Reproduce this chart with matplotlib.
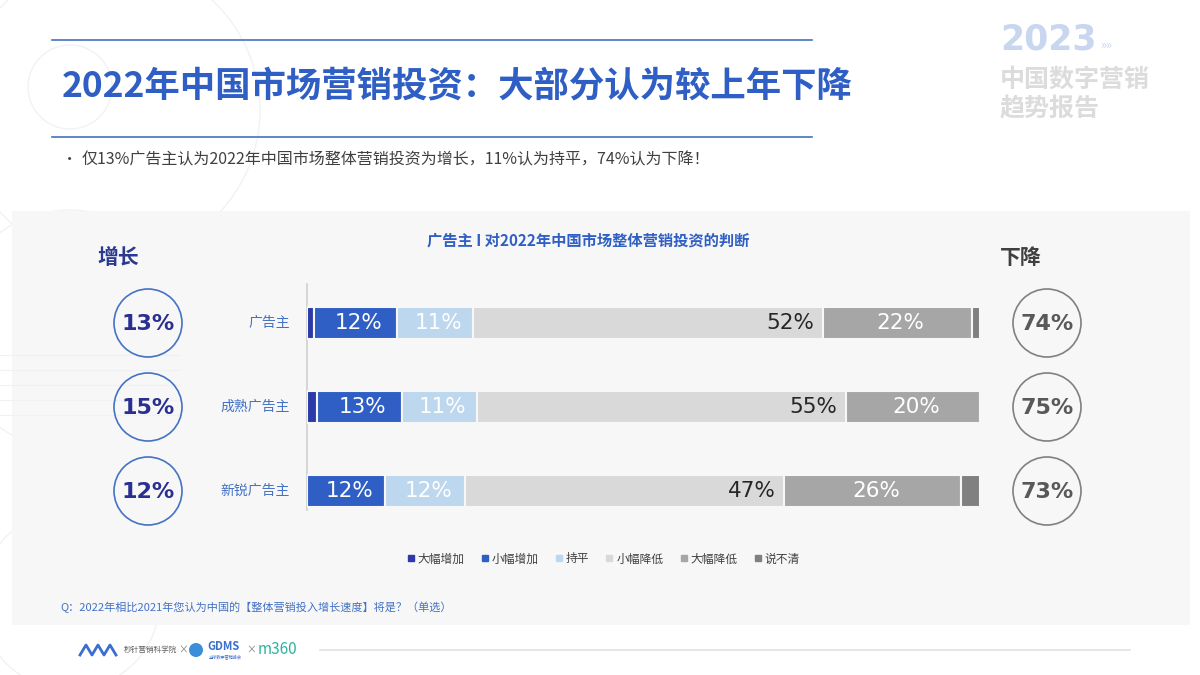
import numpy as np
import matplotlib.pyplot as plt
from matplotlib.patches import Circle, Rectangle
from matplotlib.lines import Line2D

plt.rcParams['font.family'] = ['Noto Sans CJK SC', 'DejaVu Sans']

# data
groups = ['广告主', '成熟广告主', '新锐广告主']
series = ['大幅增加', '小幅增加', '持平', '小幅降低', '大幅降低', '说不清']
big_up = [1.0, 1.5, 0.0]
small_up = [12.4, 12.6, 11.6]
flat = [11.3, 11.1, 11.9]
small_down = [51.8, 54.7, 47.2]
big_down = [22.2, 19.9, 26.4]
unsure = [1.2, 0.0, 2.8]
growth_total = [13, 15, 12]
decline_total = [74, 75, 73]

colors = ['#2b3aa8', '#2f5fc4', '#bdd7ee', '#d9d9d9', '#a6a6a6', '#808080']
label_colors = [None, 'white', 'white', '#262626', 'white', None]
panel = '#f7f7f8'
blue = '#2f5fc4'

fig = plt.figure(figsize=(12, 6.75), dpi=100)
bg = fig.add_axes([0, 0, 1, 1])
bg.set_xlim(0, 1200)
bg.set_ylim(675, 0)
bg.axis('off')

# faint decorations
for cx, cy, r in [(70, 87, 42), (110, 110, 150), (70, 330, 120), (70, 600, 90)]:
    bg.add_patch(Circle((cx, cy), r, fill=False, ec='#f1f2f6', lw=1, zorder=0))

# grey panel
bg.add_patch(Rectangle((12, 211), 1178, 414, fc=panel, ec='none', zorder=1))
for yy in [355, 370, 385, 400, 415]:
    bg.plot([0, 180], [yy, yy], color='#f0f1f4', lw=0.8, zorder=1.5)

# header
bg.plot([52, 812], [40, 40], color='#4472c4', lw=1.2)
bg.plot([52, 812], [137, 137], color='#4472c4', lw=1.2)
bg.text(62, 86, '2022年中国市场营销投资：大部分认为较上年下降', fontsize=25.5,
        fontweight='bold', color=blue, va='center', ha='left')
bg.text(62, 160, '•', fontsize=11, color='#404040', va='center')
bg.text(82, 160, '仅13%广告主认为2022年中国市场整体营销投资为增长，11%认为持平，74%认为下降！',
        fontsize=11.5, color='#404040', va='center')

# top right brand
bg.text(1000, 40, '2023', fontsize=25, fontweight='bold', color='#c9d6ef',
        va='center', family='DejaVu Sans')
bg.text(1100, 45, '»»', fontsize=9, color='#c9d6ef', va='center')
bg.text(1000, 80, '中国数字营销', fontsize=18, fontweight='bold', color='#dcdcdc', va='center')
bg.text(1000, 109, '趋势报告', fontsize=18, fontweight='bold', color='#dcdcdc', va='center')

# chart title and side headings
bg.text(588, 240, '广告主 I 对2022年中国市场整体营销投资的判断', fontsize=11,
        fontweight='bold', color=blue, ha='center', va='center', zorder=3)
bg.text(97, 257, '增长', fontsize=15, fontweight='bold', color='#2b3a8f', va='center', zorder=3)
bg.text(1000, 257, '下降', fontsize=15, fontweight='bold', color='#404040', va='center', zorder=3)

# bars
ax = fig.add_axes([307 / 1200, 1 - 533 / 675, 674 / 1200, 252 / 675])
ax.set_facecolor('none')
ypos = np.arange(len(groups))
data = [big_up, small_up, flat, small_down, big_down, unsure]
left = np.zeros(len(groups))
for i, vals in enumerate(data):
    vals = np.array(vals)
    ax.barh(ypos, vals, left=left, height=0.38, color=colors[i],
            edgecolor=panel, linewidth=1.5, label=series[i])
    if label_colors[i]:
        for y, l, v in zip(ypos, left, vals):
            if i == 3:
                ax.text(l + v - 1.2, y, f'{v:.0f}%', ha='right', va='center',
                        fontsize=15.5, color=label_colors[i], family='DejaVu Sans')
            else:
                ax.text(l + v / 2 + 0.5, y, f'{v:.0f}%', ha='center', va='center',
                        fontsize=15.5, color=label_colors[i], family='DejaVu Sans')
    left = left + vals
ax.set_xlim(0, 100)
ax.set_ylim(2.5, -0.5)
ax.axis('off')

leg = ax.legend(handles=[Line2D([], [], marker='s', ls='', color=c, markersize=4) for c in colors],
                labels=series, ncol=6, loc='center', bbox_to_anchor=(0.44, -0.103),
                frameon=False, fontsize=8.5, handlelength=0.6, handletextpad=0.3,
                columnspacing=1.4)
for t in leg.get_texts():
    t.set_color('#404040')

# axis line, group labels, circles
bg.plot([307, 307], [284, 510], color='#d0d0d0', lw=1.2, zorder=3)
row_y = [323, 407, 491]
for g, yy, gt, dt in zip(groups, row_y, growth_total, decline_total):
    bg.text(290, yy, g, fontsize=10, color='#4472c4', ha='right', va='center', zorder=3)
    bg.add_patch(Circle((148, yy), 34, fill=False, ec='#4472c4', lw=1.2, zorder=3))
    bg.text(148, yy + 1, f'{gt}%', fontsize=16, fontweight='bold', color='#2b3090',
            ha='center', va='center', family='DejaVu Sans', zorder=3)
    bg.add_patch(Circle((1047, yy), 34, fill=False, ec='#808080', lw=1.2, zorder=3))
    bg.text(1047, yy + 1, f'{dt}%', fontsize=16, fontweight='bold', color='#595959',
            ha='center', va='center', family='DejaVu Sans', zorder=3)

# footnote
bg.text(60, 607, 'Q：2022年相比2021年您认为中国的【整体营销投入增长速度】将是？（单选）',
        fontsize=8, color='#4472c4', va='center', zorder=3)

# footer logos
bg.plot([80, 86, 92, 98, 104, 110, 116], [655, 645, 655, 645, 655, 645, 655], color='#3a6fd0', lw=2)
bg.text(124, 650, '秒针营销科学院', fontsize=5.5, color='#606060', va='center')
bg.text(178, 650, '×', fontsize=7, color='#808080', va='center')
bg.add_patch(Circle((196, 650), 7, fc='#3a8fd8', ec='none'))
bg.text(207, 647, 'GDMS', fontsize=8, color='#3a6fd0', va='center', fontweight='bold')
bg.text(209, 657, '全球数字营销峰会', fontsize=3, color='#3a6fd0', va='center')
bg.text(246, 650, '×', fontsize=7, color='#808080', va='center')
bg.text(258, 650, 'm360', fontsize=11, color='#2fb3a0', va='center')
bg.plot([320, 1130], [650, 650], color='#dfe2e4', lw=1.2)

fig.savefig('out.png', dpi=100, facecolor='white')
